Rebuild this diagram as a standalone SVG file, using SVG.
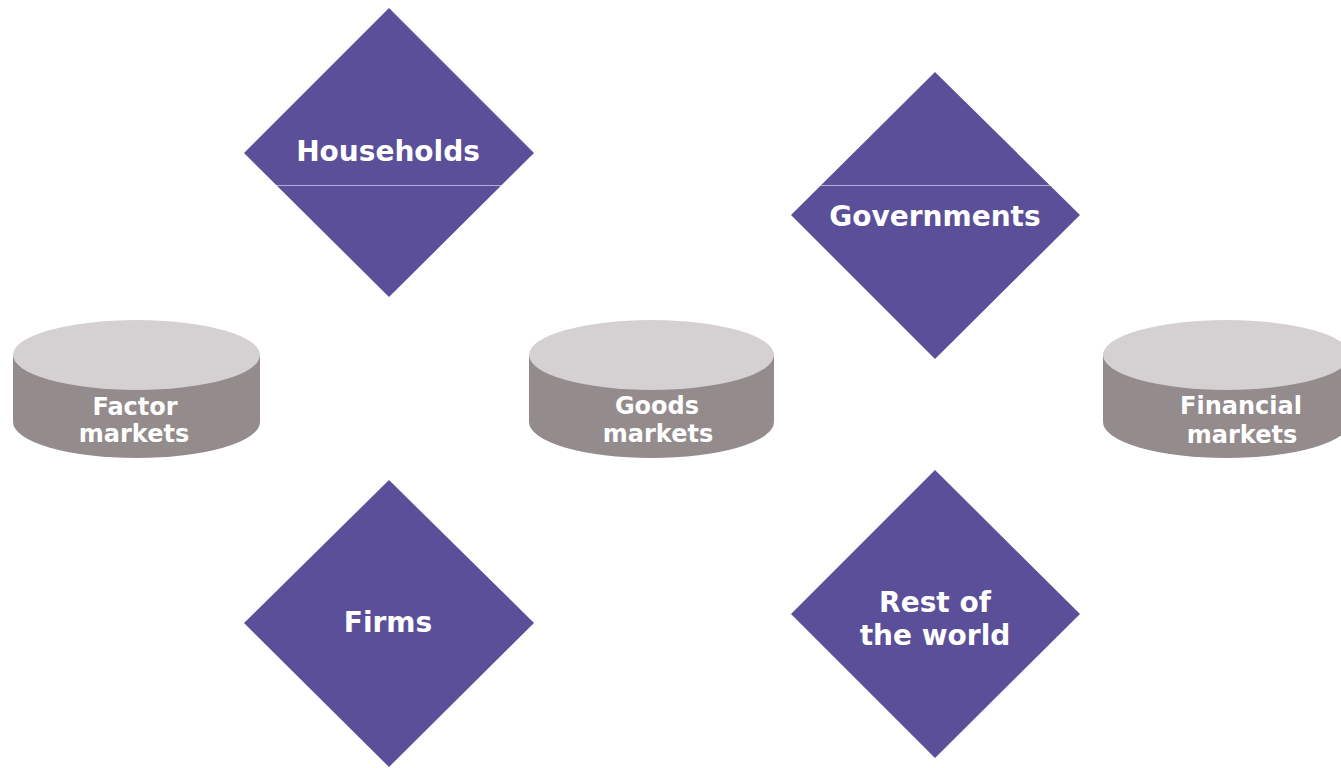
<svg xmlns="http://www.w3.org/2000/svg" width="1341" height="768" viewBox="0 0 1341 768">
<style>
.dia{fill:#5b4f9a}
.top{fill:#d5d0d2}
.side{fill:#948b8c}
.lbl{font-family:"DejaVu Sans","Liberation Sans",sans-serif;font-weight:bold;fill:#ffffff;text-anchor:middle}
.big{font-size:28px}
.sm{font-size:24px}
</style>
<rect width="1341" height="768" fill="#ffffff"/>
<g id="households">
<polygon class="dia" points="389,8 534,153 389,297 244,153"/>
<text class="lbl big" x="388" y="161">Households</text>
</g>
<g id="governments">
<polygon class="dia" points="935,72 1080,215 935,359 791,215"/>
<text class="lbl big" x="935" y="226">Governments</text>
</g>
<g id="firms">
<polygon class="dia" points="389,480 534,623 389,767 244,623"/>
<text class="lbl big" x="388" y="632">Firms</text>
</g>
<g id="rest-of-world">
<polygon class="dia" points="935,470 1080,614 935,758 791,614"/>
<text class="lbl big" x="935" y="612">Rest of</text>
<text class="lbl big" x="935" y="645">the world</text>
</g>
<g id="connectors">
<line x1="272" y1="185.5" x2="1050" y2="185.5" stroke="#ffffff" stroke-opacity="0.55" stroke-width="1"/>
</g>
<g id="factor-markets">
<path class="side" d="M13,355 L13,422 A123.5,36 0 0 0 260,422 L260,355 Z"/>
<ellipse class="top" cx="136.5" cy="355" rx="123.5" ry="35"/>
<text class="lbl sm" x="135" y="415">Factor</text>
<text class="lbl sm" x="134" y="442">markets</text>
</g>
<g id="goods-markets">
<path class="side" d="M529,355 L529,422 A122.5,36 0 0 0 774,422 L774,355 Z"/>
<ellipse class="top" cx="651.5" cy="355" rx="122.5" ry="35"/>
<text class="lbl sm" x="657" y="414">Goods</text>
<text class="lbl sm" x="658" y="442">markets</text>
</g>
<g id="financial-markets">
<path class="side" d="M1103,355 L1103,422 A123.5,36 0 0 0 1350,422 L1350,355 Z"/>
<ellipse class="top" cx="1226.5" cy="355" rx="123.5" ry="35"/>
<text class="lbl sm" x="1241" y="414">Financial</text>
<text class="lbl sm" x="1242" y="443">markets</text>
</g>
</svg>
